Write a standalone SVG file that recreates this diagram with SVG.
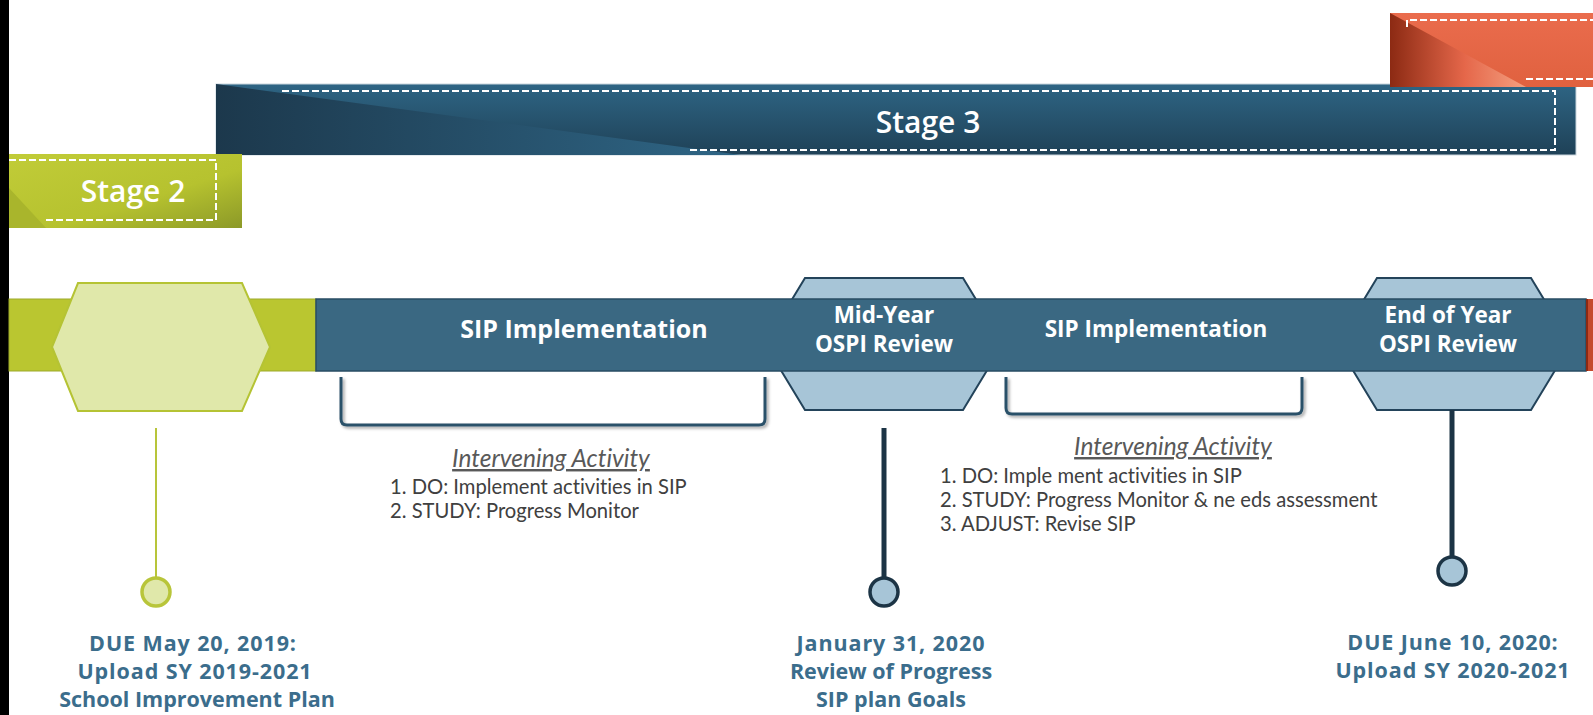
<svg xmlns="http://www.w3.org/2000/svg" width="1593" height="715" viewBox="0 0 1593 715">
<defs>
<linearGradient id="s3main" x1="0" y1="0" x2="0" y2="1"><stop offset="0" stop-color="#2E6584"/><stop offset="1" stop-color="#1F4157"/></linearGradient>
<linearGradient id="s3fold" x1="0" y1="0" x2="1" y2="0"><stop offset="0" stop-color="#1C384C"/><stop offset="1" stop-color="#2F6686"/></linearGradient>
<linearGradient id="s2main" x1="0" y1="0" x2="1" y2="1"><stop offset="0" stop-color="#C1CC38"/><stop offset="0.6" stop-color="#B6C22F"/><stop offset="1" stop-color="#8C9928"/></linearGradient>
<linearGradient id="ormain" x1="0" y1="0" x2="0" y2="1"><stop offset="0" stop-color="#EA6C4D"/><stop offset="1" stop-color="#E0613F"/></linearGradient>
<linearGradient id="orfold" x1="0" y1="0" x2="1" y2="0"><stop offset="0" stop-color="#8C2A13"/><stop offset="0.55" stop-color="#E5674A"/><stop offset="1" stop-color="#F4A080"/></linearGradient>
<filter id="sh" x="-5%" y="-20%" width="110%" height="140%"><feDropShadow dx="2" dy="2" stdDeviation="1.5" flood-color="#000" flood-opacity="0.35"/></filter>
<style>
.stage{font-family:"Open Sans",sans-serif;font-weight:600;font-size:30px;fill:#fff;text-anchor:middle}
.bar{font-family:"Open Sans",sans-serif;font-weight:700;fill:#fff;text-anchor:middle}
.due{font-family:"Open Sans",sans-serif;font-weight:700;font-size:21.5px;fill:#3B6D8C;text-anchor:middle}
.num{letter-spacing:0.9px}
.ihead{font-family:Lato,sans-serif;font-style:italic;font-size:24.5px;fill:#595959;text-anchor:middle;text-decoration:underline;font-variant-ligatures:none}
.ilist{font-family:Lato,sans-serif;font-size:20.2px;fill:#404040;font-variant-ligatures:none}
.dash{fill:none;stroke:#fff;stroke-width:2;stroke-dasharray:7 3}
.brk{fill:none;stroke:#2C5169;stroke-width:3;stroke-linejoin:round;filter:url(#sh)}
.hexb{fill:#A7C5D7;stroke:#23435A;stroke-width:2}
.dot{fill:#A7C5D7;stroke:#1C3445;stroke-width:3.5}
</style>
</defs>
<rect width="1593" height="715" fill="#fff"/>
<rect x="0" y="0" width="9" height="715" fill="#000"/>

<g id="stage3">
<rect x="216" y="84" width="1360" height="71" fill="url(#s3main)" stroke="#C9D5DD" stroke-width="1"/>
<polygon points="216,84 741,155 216,155" fill="url(#s3fold)"/>
<path class="dash" d="M282,91 H1555 V150 H688"/>
<text class="stage" x="928" y="133">Stage 3</text>
</g>

<g id="stage4">
<rect x="1390" y="13" width="203" height="74" fill="url(#ormain)"/>
<polygon points="1390,13 1526,87 1390,87" fill="url(#orfold)"/>
<path class="dash" d="M1407,27 V20 H1593 M1526,79 H1593"/>
</g>

<g id="stage2">
<rect x="9" y="154" width="233" height="74" fill="url(#s2main)"/>
<polygon points="9,188 46,228 9,228" fill="#A9B52C"/>
<path class="dash" d="M9,160 H216 V220 H43"/>
<text class="stage" x="133" y="202">Stage 2</text>
</g>

<g id="hex-mid">
<polygon class="hexb" points="805,278 963,278 1003,344 963,410 805,410 765,344"/>
</g>
<g id="hex-end">
<polygon class="hexb" points="1377,278 1531,278 1571,344 1531,410 1377,410 1337,344"/>
</g>

<g id="timeline">
<rect x="9" y="299" width="307" height="72" fill="#BAC630" stroke="#9DAA2A" stroke-width="1"/>
<rect x="316" y="299" width="1270" height="72" fill="#3A6882" stroke="#284C63" stroke-width="1.5"/>
<rect x="1586" y="299" width="7" height="72" fill="#C4492C"/>
<rect x="1586" y="299" width="2" height="72" fill="#8C2A13"/>
</g>

<g id="hex-start">
<polygon points="78,283 242,283 270,347 242,411 78,411 52,347" fill="#E0E8AA" stroke="#B5C334" stroke-width="2"/>
</g>

<g id="labels-bar">
<text class="bar" x="584" y="338" font-size="25">SIP Implementation</text>
<text class="bar" x="884" y="323" font-size="22.5">Mid-Year</text>
<text class="bar" x="884" y="352" font-size="22.5">OSPI Review</text>
<text class="bar" x="1156" y="337" font-size="22.5">SIP Implementation</text>
<text class="bar" x="1448" y="323" font-size="22.5">End of Year</text>
<text class="bar" x="1448" y="352" font-size="22.5">OSPI Review</text>
</g>

<g id="connectors">
<path class="brk" d="M341,377 V419 Q341,425 347,425 H759 Q765,425 765,419 V377"/>
<path class="brk" d="M1006,377 V408 Q1006,414 1012,414 H1296 Q1302,414 1302,408 V377"/>
<line x1="156" y1="428" x2="156" y2="577" stroke="#B8C53A" stroke-width="2"/>
<line x1="884" y1="428" x2="884" y2="577" stroke="#1C3445" stroke-width="5"/>
<line x1="1452" y1="410" x2="1452" y2="556" stroke="#1C3445" stroke-width="5"/>
</g>

<g id="activity-1">
<text class="ihead" x="551" y="467">Intervening Activity</text>
<text class="ilist" x="390" y="494">1.  DO: Implement activities in SIP</text>
<text class="ilist" x="390" y="518">2.  STUDY: Progress Monitor</text>
</g>
<g id="activity-2">
<text class="ihead" x="1173" y="455">Intervening Activity</text>
<text class="ilist" x="940" y="483">1. DO: Imple ment activities in SIP</text>
<text class="ilist" x="940" y="507">2.  STUDY: Progress Monitor &amp; ne eds assessment</text>
<text class="ilist" x="940" y="531">3. ADJUST:  Revise SIP</text>
</g>

<g id="milestone-1">
<circle cx="156" cy="592" r="14" fill="#E0E8AA" stroke="#B8C53A" stroke-width="3.5"/>
<text class="due num" x="193" y="651">DUE May 20, 2019:</text>
<text class="due num" x="195" y="679">Upload SY 2019-2021</text>
<text class="due" x="197" y="707">School Improvement Plan</text>
</g>
<g id="milestone-2">
<circle class="dot" cx="884" cy="592" r="14"/>
<text class="due num" x="891" y="651">January 31, 2020</text>
<text class="due" x="891" y="679">Review of Progress</text>
<text class="due" x="891" y="707">SIP plan Goals</text>
</g>
<g id="milestone-3">
<circle class="dot" cx="1452" cy="571" r="14"/>
<text class="due num" x="1453" y="650">DUE June 10, 2020:</text>
<text class="due num" x="1453" y="678">Upload SY 2020-2021</text>
</g>
</svg>
